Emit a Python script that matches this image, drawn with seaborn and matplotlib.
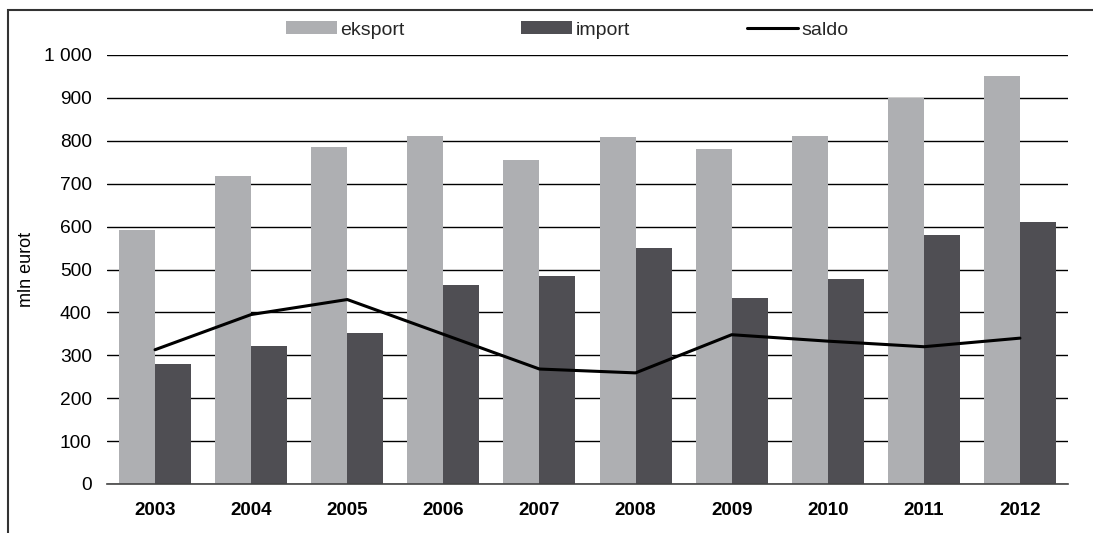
import numpy as np
import pandas as pd
import matplotlib
matplotlib.use("Agg")
import matplotlib.pyplot as plt
import seaborn as sns
from matplotlib.patches import Patch, Rectangle
from matplotlib.lines import Line2D

years = ["2003", "2004", "2005", "2006", "2007", "2008", "2009", "2010", "2011", "2012"]
eksport = [593, 717, 785, 812, 755, 808, 781, 812, 900, 950]
importv = [280, 322, 352, 463, 485, 550, 434, 477, 580, 610]
saldo = [313, 395, 430, 349, 268, 259, 348, 333, 320, 340]
yticks = [0, 100, 200, 300, 400, 500, 600, 700, 800, 900, 1000]
ytick_labels = ["0", "100", "200", "300", "400", "500", "600", "700", "800", "900", "1 000"]

c_exp = "#AEAFB2"
c_imp = "#4F4E53"

sns.set_theme(style="white")
plt.rcParams["font.family"] = ["Liberation Sans", "DejaVu Sans"]

df = pd.DataFrame({
    "year": years * 2,
    "value": eksport + importv,
    "series": ["eksport"] * len(years) + ["import"] * len(years),
})

fig = plt.figure(figsize=(10.93, 5.33), dpi=100)
ax = fig.add_axes([107 / 1093, 1 - 484 / 533, (1068 - 107) / 1093, (484 - 55) / 533])

sns.barplot(data=df, x="year", y="value", hue="series",
            palette={"eksport": c_exp, "import": c_imp},
            width=0.75, dodge=True, saturation=1, ax=ax, legend=False,
            edgecolor="none", linewidth=0)
sns.lineplot(x=np.arange(len(years)), y=saldo, color="black", linewidth=2.2, ax=ax)

ax.set_xlim(-0.5, len(years) - 0.5)
ax.set_ylim(0, 1000)
ax.set_yticks(yticks)
ax.set_yticklabels(ytick_labels)
ax.set_axisbelow(True)
ax.yaxis.grid(True, color="black", linewidth=1.0)
ax.xaxis.grid(False)
for s in ["top", "right", "left"]:
    ax.spines[s].set_visible(False)
ax.spines["bottom"].set_color("#444444")
ax.spines["bottom"].set_linewidth(1.2)
ax.tick_params(axis="y", length=0, pad=11, labelsize=13.8, colors="black")
ax.tick_params(axis="x", length=0, pad=13, labelsize=13.5, colors="black")
for lbl in ax.get_xticklabels():
    lbl.set_fontweight("bold")
ax.set_xlabel("")
ax.set_ylabel("mln eurot", fontsize=13, color="black")
ax.yaxis.set_label_coords((35 - 107) / 961, 0.5)

handles = [Patch(facecolor=c_exp, edgecolor="none"),
           Patch(facecolor=c_imp, edgecolor="none"),
           Line2D([], [], color="black", linewidth=2.2)]
fig.legend(handles, ["eksport", "import", "saldo"], loc="center",
           bbox_to_anchor=(0.519, 1 - 30 / 533), ncol=3, frameon=False,
           fontsize=14, handlelength=2.6, handleheight=0.6, handletextpad=0.2,
           columnspacing=6.0)

fig.add_artist(Rectangle((8 / 1093, -0.5), 2.0, 0.5 + 1 - 10 / 533,
                         transform=fig.transFigure, fill=False,
                         edgecolor="#333333", linewidth=1.5))

fig.savefig("out.png", dpi=100)
